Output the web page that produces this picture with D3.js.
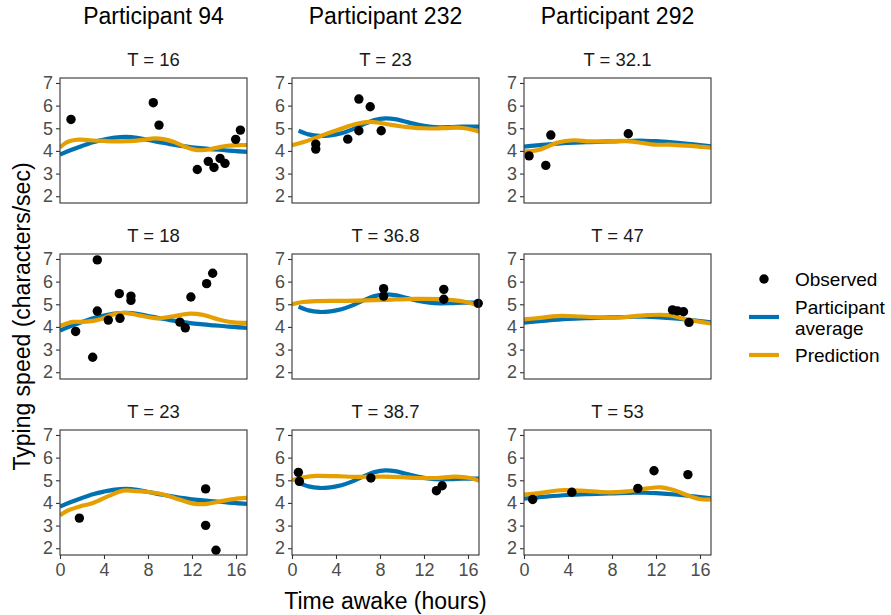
<!DOCTYPE html>
<html>
<head>
<meta charset="utf-8">
<script src="https://cdn.jsdelivr.net/npm/d3@7"></script>
<style>
  body { margin: 0; background: #fff; }
  svg { display: block; font-family: "Liberation Sans", Arial, sans-serif; }
</style>
</head>
<body>
<svg id="chart" width="891" height="615"></svg>
<script>
// ---------- data ----------
const participants = ["Participant 94", "Participant 232", "Participant 292"];
const xTicks = [0, 4, 8, 12, 16];
const yTicks = [2, 3, 4, 5, 6, 7];

// participant averages (blue)
const avg94 = [[0,3.84],[1,4.04],[2,4.22],[3,4.38],[4,4.5],[5,4.59],[6,4.62],[7,4.58],[8,4.48],[9,4.39],[10,4.3],[11,4.22],[12,4.16],[13,4.11],[14,4.07],[15,4.03],[16,3.99],[17,3.96]];
const avg232 = [[0.6,4.9],[1.5,4.73],[2.5,4.66],[3.5,4.69],[4.5,4.78],[5.5,4.95],[6.5,5.17],[7.5,5.36],[8.5,5.44],[9.5,5.39],[10.5,5.27],[11.5,5.15],[12.5,5.07],[13.5,5.04],[14.5,5.05],[15.5,5.07],[17,5.07]];
const avg292 = [[0,4.19],[2,4.28],[4,4.35],[6,4.39],[8,4.42],[10,4.45],[11,4.45],[12,4.43],[14,4.36],[16,4.26],[17,4.2]];

// predictions (orange)
const pred94_t16 = [[0,4.15],[0.5,4.35],[1,4.45],[1.7,4.5],[2.7,4.47],[4,4.44],[5.5,4.42],[6.7,4.44],[7.7,4.5],[8.6,4.55],[9.4,4.52],[10.3,4.4],[11.2,4.22],[12.1,4.07],[12.9,4.03],[13.7,4.08],[14.5,4.17],[15.4,4.23],[16.3,4.26],[17,4.26]];
const pred94_t18 = [[0,4.04],[0.6,4.15],[1.2,4.22],[2.4,4.23],[3.6,4.33],[4.5,4.5],[5.3,4.6],[6.1,4.61],[7.3,4.5],[8.8,4.38],[10.3,4.47],[11.8,4.59],[13,4.53],[14.5,4.32],[15.8,4.2],[17,4.18]];
const pred94_t23 = [[0,3.45],[0.6,3.64],[1.8,3.84],[3,4.0],[4.5,4.32],[5.75,4.54],[7,4.52],[8.2,4.47],[9.4,4.37],[10.9,4.14],[12.1,3.97],[13.2,3.95],[14.5,4.06],[15.8,4.17],[17,4.22]];
const pred232_t23 = [[0,4.25],[1,4.38],[2,4.55],[3,4.73],[4,4.9],[5,5.07],[6,5.21],[7,5.28],[8,5.24],[9,5.15],[10,5.08],[11,5.03],[12,5.0],[13,4.99],[14,5.01],[15,5.03],[16,4.98],[17,4.85]];
const pred232_t368 = [[0,5.0],[1,5.1],[2.2,5.14],[5,5.15],[8.3,5.19],[11.2,5.24],[13.8,5.22],[15.6,5.12],[17,4.93]];
const pred232_t387 = [[0,5.01],[1,5.12],[2.2,5.19],[4,5.18],[6,5.15],[8.3,5.16],[10,5.14],[11.5,5.1],[13.1,5.1],[14.9,5.16],[16.2,5.1],[17,4.98]];
const pred292_t321 = [[0,3.98],[1.2,4.03],[2.1,4.18],[3,4.36],[4.5,4.47],[6,4.42],[7.6,4.42],[9.1,4.44],[10.6,4.36],[11.8,4.28],[13.6,4.27],[15.4,4.21],[17,4.14]];
const pred292_t47 = [[0,4.33],[1.5,4.4],[3,4.48],[5.2,4.46],[8.2,4.4],[11.2,4.52],[13.1,4.52],[14.9,4.32],[17,4.15]];
const pred292_t53 = [[0,4.37],[1.4,4.43],[3.3,4.56],[5.1,4.54],[7.6,4.47],[9.4,4.51],[11.2,4.64],[12.4,4.69],[13.6,4.57],[14.9,4.33],[16.1,4.16],[17,4.15]];

// observed (black points)
const obs94_t16 = [[1.0,5.39],[8.48,6.13],[9.0,5.14],[12.48,3.18],[13.48,3.54],[14.0,3.27],[14.55,3.67],[15.0,3.45],[15.97,4.51],[16.4,4.92]];
const obs94_t18 = [[1.42,3.80],[2.97,2.66],[3.39,6.96],[3.39,4.70],[4.39,4.30],[5.39,5.47],[5.45,4.38],[6.45,5.36],[6.45,5.17],[10.9,4.21],[11.39,3.96],[11.9,5.32],[13.33,5.91],[13.88,6.37]];
const obs94_t23 = [[1.76,3.33],[13.24,4.62],[13.24,3.01],[14.18,1.91]];
const obs232_t23 = [[2.16,4.30],[2.16,4.08],[5.07,4.52],[6.08,6.29],[6.08,4.89],[7.11,5.95],[8.11,4.89]];
const obs232_t368 = [[8.33,5.69],[8.33,5.36],[13.8,5.66],[13.8,5.22],[16.93,5.04]];
const obs232_t387 = [[0.58,5.35],[0.67,4.95],[7.17,5.1],[13.13,4.54],[13.65,4.76]];
const obs292_t321 = [[0.46,3.78],[1.98,3.36],[2.44,4.70],[9.48,4.76]];
const obs292_t47 = [[13.5,4.75],[13.95,4.71],[14.5,4.67],[15.0,4.2]];
const obs292_t53 = [[0.79,4.15],[4.35,4.47],[10.35,4.64],[11.82,5.42],[14.9,5.25]];

// panel table (row-major), built from the arrays above
const panels = [
  {row:0, col:0, title:"T = 16",   avg:avg94,  pred:pred94_t16,   obs:obs94_t16},
  {row:0, col:1, title:"T = 23",   avg:avg232, pred:pred232_t23,  obs:obs232_t23},
  {row:0, col:2, title:"T = 32.1", avg:avg292, pred:pred292_t321, obs:obs292_t321},
  {row:1, col:0, title:"T = 18",   avg:avg94,  pred:pred94_t18,   obs:obs94_t18},
  {row:1, col:1, title:"T = 36.8", avg:avg232, pred:pred232_t368, obs:obs232_t368},
  {row:1, col:2, title:"T = 47",   avg:avg292, pred:pred292_t47,  obs:obs292_t47},
  {row:2, col:0, title:"T = 23",   avg:avg94,  pred:pred94_t23,   obs:obs94_t23},
  {row:2, col:1, title:"T = 38.7", avg:avg232, pred:pred232_t387, obs:obs232_t387},
  {row:2, col:2, title:"T = 53",   avg:avg292, pred:pred292_t53,  obs:obs292_t53}
];

// ---------- layout ----------
const colLeft = [60, 292, 524];
const rowTop = [78, 254, 430];
const pw = 187, ph = 125;
const blue = "#0072B2", orange = "#E69F00";
const tickFont = 18, stripFont = 18.5, titleFont = 23;

const svg = d3.select("#chart");

participants.forEach((p, i) => {
  svg.append("text")
    .attr("x", colLeft[i] + pw / 2).attr("y", 24)
    .attr("text-anchor", "middle")
    .attr("font-size", 23).attr("fill", "#000")
    .text(p);
});

panels.forEach((p, idx) => {
  const x0 = colLeft[p.col], y0 = rowTop[p.row];
  const x = d3.scaleLinear().domain([0, 17]).range([x0, x0 + pw]);
  const y = d3.scaleLinear().domain([1.7, 7.22]).range([y0 + ph, y0]);

  const g = svg.append("g");

  // strip title
  g.append("text")
    .attr("x", x0 + pw / 2).attr("y", y0 - 12)
    .attr("text-anchor", "middle")
    .attr("font-size", stripFont).attr("fill", "#1a1a1a")
    .text(p.title);

  // clip
  const clipId = "clip" + idx;
  svg.append("clipPath").attr("id", clipId)
    .append("rect").attr("x", x0).attr("y", y0).attr("width", pw).attr("height", ph);

  const line = d3.line()
    .x(d => x(d[0])).y(d => y(d[1]))
    .curve(d3.curveCatmullRom.alpha(0.5));

  const lines = g.append("g").attr("clip-path", `url(#${clipId})`);
  lines.append("path").datum(p.avg)
    .attr("d", line).attr("fill", "none")
    .attr("stroke", blue).attr("stroke-width", 4.2)
    .attr("stroke-linecap", "butt");
  lines.append("path").datum(p.pred)
    .attr("d", line).attr("fill", "none")
    .attr("stroke", orange).attr("stroke-width", 4.2)
    .attr("stroke-linecap", "butt");

  g.append("g").selectAll("circle").data(p.obs).join("circle")
    .attr("cx", d => x(d[0])).attr("cy", d => y(d[1]))
    .attr("r", 4.7).attr("fill", "#000");

  // y axis
  const yAxis = d3.axisLeft(y).tickValues(yTicks).tickSize(4).tickPadding(3).tickFormat(d3.format("d"));
  const ya = g.append("g").attr("transform", `translate(${x0},0)`).call(yAxis);
  ya.select(".domain").remove();
  ya.selectAll(".tick line").attr("stroke", "#333").attr("stroke-width", 1.1);
  ya.selectAll(".tick text").attr("fill", "#4d4d4d").attr("font-size", tickFont)
    .attr("font-family", "Liberation Sans, Arial, sans-serif");

  // x axis on bottom row
  if (p.row === 2) {
    const xAxis = d3.axisBottom(x).tickValues(xTicks).tickSize(4).tickPadding(4);
    const xa = g.append("g").attr("transform", `translate(0,${y0 + ph})`).call(xAxis);
    xa.select(".domain").remove();
    xa.selectAll(".tick line").attr("stroke", "#333").attr("stroke-width", 1.1);
    xa.selectAll(".tick text").attr("fill", "#4d4d4d").attr("font-size", tickFont)
      .attr("font-family", "Liberation Sans, Arial, sans-serif");
  }

  // border
  g.append("rect").attr("x", x0).attr("y", y0).attr("width", pw).attr("height", ph)
    .attr("fill", "none").attr("stroke", "#333").attr("stroke-width", 1.1);
});

// axis titles
svg.append("text")
  .attr("x", (colLeft[0] + colLeft[2] + pw) / 2).attr("y", 609)
  .attr("text-anchor", "middle").attr("font-size", titleFont).attr("fill", "#000")
  .text("Time awake (hours)");
svg.append("text")
  .attr("transform", `translate(22,${(rowTop[0] + rowTop[2] + ph) / 2}) rotate(-90)`)
  .attr("dy", "0.35em")
  .attr("text-anchor", "middle").attr("font-size", titleFont).attr("fill", "#000")
  .text("Typing speed (characters/sec)");

// legend
const lg = svg.append("g");
lg.append("circle").attr("cx", 764).attr("cy", 279).attr("r", 4.7).attr("fill", "#000");
lg.append("text").attr("x", 795).attr("y", 279).attr("dy", "0.35em")
  .attr("font-size", 19).attr("fill", "#000").text("Observed");
lg.append("line").attr("x1", 749).attr("x2", 779).attr("y1", 317).attr("y2", 317)
  .attr("stroke", blue).attr("stroke-width", 4.2);
lg.append("text").attr("x", 795).attr("y", 314)
  .attr("font-size", 19).attr("fill", "#000").text("Participant");
lg.append("text").attr("x", 795).attr("y", 335)
  .attr("font-size", 19).attr("fill", "#000").text("average");
lg.append("line").attr("x1", 749).attr("x2", 779).attr("y1", 355).attr("y2", 355)
  .attr("stroke", orange).attr("stroke-width", 4.2);
lg.append("text").attr("x", 795).attr("y", 355).attr("dy", "0.35em")
  .attr("font-size", 19).attr("fill", "#000").text("Prediction");
</script>
</body>
</html>
